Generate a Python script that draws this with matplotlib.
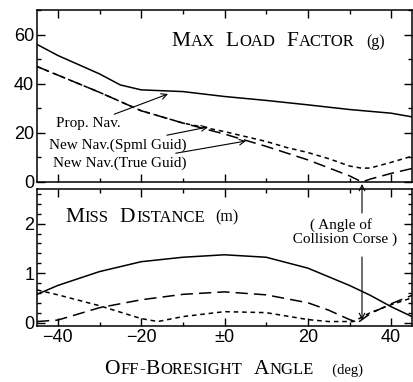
import matplotlib
matplotlib.use('Agg')
import matplotlib.pyplot as plt
from matplotlib.offsetbox import TextArea, HPacker, AnnotationBbox
from matplotlib.ticker import MultipleLocator

# Max load factor (g) vs off-boresight angle (deg)
prop_x = [-45, -40, -30, -25, -20, -10, 0, 10, 20, 30, 40, 45]
prop_g = [56, 51.5, 44, 39.5, 37.5, 36.8, 34.8, 33.2, 31.4, 29.5, 28, 26.5]
spml_x = [-45, -40, -30, -20, -10, 0, 10, 15, 20, 25, 30, 33, 35, 40, 45]
spml_g = [47, 43.5, 36.5, 29, 24, 20.5, 16.5, 14, 12, 9.5, 6.5, 5.6, 5.7, 8, 10.5]
true_x = [-45, -40, -30, -20, -10, 0, 10, 20, 30, 33, 35, 40, 45]
true_g = [47, 43.5, 36.5, 29, 24, 19.5, 14.5, 9, 2.5, 0, 1.2, 3.5, 5.5]

# Miss distance (m)
prop_mx = [-45, -40, -30, -20, -10, 0, 10, 20, 30, 35, 40, 45]
prop_m = [0.57, 0.75, 1.03, 1.23, 1.32, 1.37, 1.32, 1.1, 0.75, 0.55, 0.32, 0.12]
spml_mx = [-45, -40, -30, -20, -16, -10, 0, 10, 20, 25, 31, 35, 40, 45]
spml_m = [0.66, 0.56, 0.34, 0.08, 0.02, 0.12, 0.22, 0.2, 0.06, 0.02, 0.02, 0.2, 0.36, 0.5]
true_mx = [-45, -40, -30, -20, -10, 0, 10, 20, 25, 30, 32, 35, 40, 45]
true_m = [0.02, 0.05, 0.3, 0.46, 0.57, 0.62, 0.56, 0.4, 0.25, 0.06, 0.0, 0.18, 0.38, 0.55]

xticks = [-40, -20, 0, 20, 40]
xticklabels = ['\u221240', '\u221220', '\u00b10', '20', '40']

SERIF = 'Liberation Serif'
SANS = 'Liberation Sans'
SHORT = (0, (3, 2.5))
LONG = (0, (8, 4))

W, H = 413, 382
fig = plt.figure(figsize=(W / 100, H / 100), dpi=100)


def box(x0, y0, x1, y1):
    # pixel box (top-left origin) -> figure fraction
    return [x0 / W, 1 - y1 / H, (x1 - x0) / W, (y1 - y0) / H]


ax1 = fig.add_axes(box(37, 10, 412, 182))
ax2 = fig.add_axes(box(37, 189, 412, 326))

ax1.plot(prop_x, prop_g, color='black', lw=1.1)
ax1.plot(spml_x, spml_g, color='black', lw=1.1, linestyle=SHORT)
ax1.plot(true_x, true_g, color='black', lw=1.1, linestyle=LONG)
ax1.set_ylim(0, 70)
ax1.yaxis.set_major_locator(MultipleLocator(20))
ax1.yaxis.set_minor_locator(MultipleLocator(10))
ax1.tick_params(labelbottom=False)

ax2.plot(prop_mx, prop_m, color='black', lw=1.1)
ax2.plot(spml_mx, spml_m, color='black', lw=1.1, linestyle=SHORT)
ax2.plot(true_mx, true_m, color='black', lw=1.1, linestyle=LONG)
ax2.set_ylim(-0.07, 2.7)
ax2.set_yticks([0, 1, 2])
ax2.yaxis.set_minor_locator(MultipleLocator(0.2))
ax2.set_xticks(xticks)
ax2.set_xticklabels(xticklabels)

for ax in (ax1, ax2):
    ax.set_xlim(-45, 45)
    ax.xaxis.set_minor_locator(MultipleLocator(10))
    ax.tick_params(which='both', direction='in', top=True, right=True,
                   width=1.0, labelsize=13, pad=2)
    ax.tick_params(which='major', length=6)
    ax.tick_params(which='minor', length=3)
    for lab in ax.get_xticklabels() + ax.get_yticklabels():
        lab.set_family(SANS)
    for s in ax.spines.values():
        s.set_linewidth(1.1)


def smallcaps(words, x, y, big=15.5, small=12, sep=8):
    # words: list of lists of (text, kind) ; kind 'B' big, 'S' small, number = size
    groups = []
    for word in words:
        kids = []
        for txt, kind in word:
            size = big if kind == 'B' else small if kind == 'S' else kind
            kids.append(TextArea(txt, textprops=dict(size=size, family=SERIF)))
        groups.append(HPacker(children=kids, align='baseline', pad=0, sep=0.5))
    pack = HPacker(children=groups, align='baseline', pad=0, sep=sep)
    ab = AnnotationBbox(pack, (x / W, 1 - y / H), xycoords='figure fraction',
                        box_alignment=(0, 0.5), frameon=False, pad=0)
    fig.add_artist(ab)


smallcaps([[('M', 'B'), ('AX', 'S')], [('L', 'B'), ('OAD', 'S')],
           [('F', 'B'), ('ACTOR', 'S')], [('(g)', 11.5)]], 171, 41)
smallcaps([[('M', 'B'), ('ISS', 'S')], [('D', 'B'), ('ISTANCE', 'S')],
           [('(m)', 11.5)]], 65, 217)
smallcaps([[('O', 'B'), ('FF', 'S'), ('-', 'S'), ('B', 'B'), ('ORESIGHT', 'S')],
           [('A', 'B'), ('NGLE', 'S')], [('  (deg)', 10.5)]], 104, 369)

# curve labels and arrows (figure pixels)
def px(x, y):
    return (x / W, 1 - y / H)


lab_kw = dict(xycoords='figure fraction', textcoords='figure fraction',
              family=SERIF, size=11, va='center',
              arrowprops=dict(arrowstyle='->', color='black', lw=0.8,
                              shrinkA=1, shrinkB=0, mutation_scale=10))
fig.axes[0].annotate('Prop. Nav.', xy=px(168, 94), xytext=px(56, 124),
                     ha='left', **lab_kw)
fig.axes[0].annotate('New Nav.(Spml Guid)', xy=px(208, 127), xytext=px(49, 145),
                     ha='left', **lab_kw)
fig.axes[0].annotate('New Nav.(True Guid)', xy=px(246, 141), xytext=px(53, 163),
                     ha='left', **lab_kw)

fig.text(*px(341, 232), '( Angle of\n  Collision Corse )', family=SERIF,
         size=11, ha='center', va='center', linespacing=1.1)
arr = dict(arrowstyle='->', color='black', lw=0.8, mutation_scale=10,
           shrinkA=0, shrinkB=0)
fig.axes[1].annotate('', xy=px(362, 184), xytext=px(362, 213),
                     xycoords='figure fraction', textcoords='figure fraction',
                     arrowprops=arr)
fig.axes[1].annotate('', xy=px(362, 320), xytext=px(362, 257),
                     xycoords='figure fraction', textcoords='figure fraction',
                     arrowprops=arr)

fig.savefig('out.png', dpi=100)
